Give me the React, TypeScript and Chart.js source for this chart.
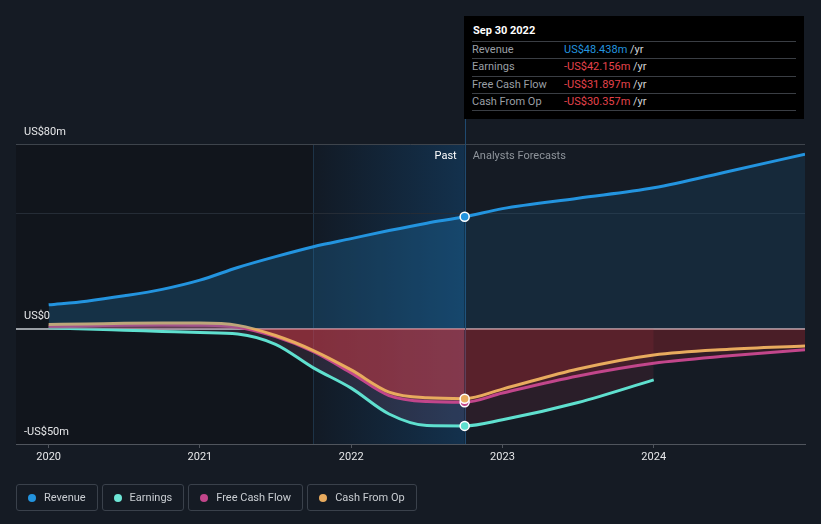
import React, { useEffect, useRef } from "react";
import { Chart, registerables } from "chart.js";

Chart.register(...registerables);

// ---------- data ----------
const pastDates = [2020.0, 2020.25, 2020.5, 2020.75, 2021.0, 2021.25, 2021.5, 2021.75, 2022.0, 2022.25, 2022.5, 2022.75];
const forecastDates = [2022.75, 2023.0, 2023.5, 2024.0, 2024.5, 2025.0];
const earningsForecastDates = [2022.75, 2023.0, 2023.5, 2024.0];

const revenuePast = [10.3, 11.9, 14.2, 17.0, 21.0, 26.5, 31.2, 35.5, 39.0, 42.5, 45.7, 48.438];
const revenueForecast = [48.438, 52.0, 56.5, 61.0, 68.2, 75.6];

const earningsPast = [0.4, -0.2, -0.7, -1.2, -1.7, -2.3, -6.8, -17.0, -25.8, -37.0, -42.0, -42.156];
const earningsForecast = [-42.156, -39.5, -32.0, -22.2];

const fcfPast = [1.0, 1.2, 1.5, 1.6, 1.5, 0.6, -3.5, -10.0, -19.2, -29.0, -31.6, -31.897];
const fcfForecast = [-31.897, -27.9, -20.5, -15.0, -11.8, -9.2];

const cfoPast = [1.8, 2.0, 2.3, 2.4, 2.4, 1.4, -3.0, -9.5, -17.9, -27.5, -30.0, -30.357];
const cfoForecast = [-30.357, -26.2, -17.5, -11.4, -8.9, -7.5];

const xTicks = [2020, 2021, 2022, 2023, 2024];
const yTicks = [-50, 0, 50, 80];
const yLabels: Record<number, string> = { 80: "US$80m", 0: "US$0", [-50]: "-US$50m" };

const X_MIN = 2019.784;
const X_MAX = 2025.0;
const NOW = 2022.75;
const HIGHLIGHT_START = 2021.75;

const tooltipTitle = "Sep 30 2022";
const tooltipRows = [
  { label: "Revenue", value: "US$48.438m", positive: true },
  { label: "Earnings", value: "-US$42.156m", positive: false },
  { label: "Free Cash Flow", value: "-US$31.897m", positive: false },
  { label: "Cash From Op", value: "-US$30.357m", positive: false },
];

const legendItems = [
  { label: "Revenue", color: "#2394df" },
  { label: "Earnings", color: "#6ee6d6" },
  { label: "Free Cash Flow", color: "#c2468b" },
  { label: "Cash From Op", color: "#e8ab5e" },
];

const FONT = "Roboto, 'Noto Sans', sans-serif";

function pts(dates: number[], vals: number[]) {
  return dates.map((x, i) => ({ x, y: vals[i] }));
}
function joined(pd: number[], pv: number[], fd: number[], fv: number[]) {
  return pts(pd, pv).concat(pts(fd, fv).slice(1));
}

export default function App() {
  const canvasRef = useRef<HTMLCanvasElement | null>(null);

  useEffect(() => {
    const canvas = canvasRef.current;
    if (!canvas) return;

    const pointR = (ctx: any) => (ctx.raw && ctx.raw.x === NOW ? 4.5 : 0);
    const segBg = (past: string, future: string) => ({
      backgroundColor: (ctx: any) => (ctx.p0.parsed.x >= NOW - 1e-6 ? future : past),
    });

    const bgPlugin = {
      id: "bgPlugin",
      beforeDraw(chart: any) {
        const { ctx, chartArea: a, scales } = chart;
        const xs = scales.x;
        const xh = xs.getPixelForValue(HIGHLIGHT_START);
        const xn = xs.getPixelForValue(NOW);
        ctx.save();
        ctx.fillStyle = "#11151c";
        ctx.fillRect(a.left, a.top, xh - a.left, a.bottom - a.top);
        const g = ctx.createLinearGradient(xh, 0, xn, 0);
        g.addColorStop(0, "#121a25");
        g.addColorStop(1, "#13314d");
        ctx.fillStyle = g;
        ctx.fillRect(xh, a.top, xn - xh, a.bottom - a.top);
        ctx.fillStyle = "#1d3347";
        ctx.fillRect(Math.round(xh), a.top, 1, a.bottom - a.top);
        ctx.restore();
      },
      beforeDatasetsDraw(chart: any) {
        const { ctx, chartArea: a, scales } = chart;
        const xn = Math.round(scales.x.getPixelForValue(NOW));
        ctx.save();
        ctx.fillStyle = "#1f4a70";
        ctx.fillRect(xn, 119, 1, a.bottom - 119);
        ctx.restore();
      },
      afterDraw(chart: any) {
        const { ctx, chartArea: a, scales } = chart;
        const ys = scales.y;
        const xn = scales.x.getPixelForValue(NOW);
        ctx.save();
        ctx.font = `11px ${FONT}`;
        ctx.textBaseline = "middle";
        ctx.textAlign = "left";
        ctx.fillStyle = "#e6e7e9";
        for (const v of [80, 0, -50]) {
          ctx.fillText(yLabels[v], 24, ys.getPixelForValue(v) - 12);
        }
        ctx.textAlign = "right";
        ctx.fillStyle = "#ffffff";
        ctx.fillText("Past", xn - 8, a.top + 12);
        ctx.textAlign = "left";
        ctx.fillStyle = "#8e949b";
        ctx.fillText("Analysts Forecasts", xn + 8, a.top + 12);
        ctx.restore();
      },
    };

    const chart = new Chart(canvas, {
      type: "line",
      data: {
        datasets: [
          {
            label: "Revenue",
            data: joined(pastDates, revenuePast, forecastDates, revenueForecast),
            borderColor: "#2394df",
            borderWidth: 3,
            fill: "origin",
            backgroundColor: "rgba(35,148,223,0.22)",
            segment: segBg("rgba(35,148,223,0.22)", "rgba(35,148,223,0.12)"),
            pointRadius: pointR,
            pointHoverRadius: 0,
            pointBackgroundColor: "#2394df",
            pointBorderColor: "#ffffff",
            pointBorderWidth: 1.5,
            cubicInterpolationMode: "monotone",
            order: 0,
          },
          {
            label: "Cash From Op",
            data: joined(pastDates, cfoPast, forecastDates, cfoForecast),
            borderColor: "#e8ab5e",
            borderWidth: 3,
            fill: "origin",
            backgroundColor: "rgba(215,55,65,0.3)",
            segment: segBg("rgba(215,55,65,0.3)", "rgba(200,40,50,0.165)"),
            pointRadius: pointR,
            pointHoverRadius: 0,
            pointBackgroundColor: "#e8ab5e",
            pointBorderColor: "#ffffff",
            pointBorderWidth: 1.5,
            cubicInterpolationMode: "monotone",
            order: 1,
          },
          {
            label: "Free Cash Flow",
            data: joined(pastDates, fcfPast, forecastDates, fcfForecast),
            borderColor: "#c2468b",
            borderWidth: 3,
            fill: "origin",
            backgroundColor: "rgba(215,55,65,0.3)",
            segment: segBg("rgba(215,55,65,0.3)", "rgba(200,40,50,0.165)"),
            pointRadius: pointR,
            pointHoverRadius: 0,
            pointBackgroundColor: "#c2468b",
            pointBorderColor: "#ffffff",
            pointBorderWidth: 1.5,
            cubicInterpolationMode: "monotone",
            order: 2,
          },
          {
            label: "Earnings",
            data: joined(pastDates, earningsPast, earningsForecastDates, earningsForecast),
            borderColor: "#5fe0cf",
            borderWidth: 3,
            fill: "origin",
            backgroundColor: "rgba(180,120,170,0.15)",
            segment: segBg("rgba(180,120,170,0.15)", "rgba(200,60,80,0.12)"),
            pointRadius: pointR,
            pointHoverRadius: 0,
            pointBackgroundColor: "#5fe0cf",
            pointBorderColor: "#ffffff",
            pointBorderWidth: 1.5,
            cubicInterpolationMode: "monotone",
            order: 3,
          },
        ],
      },
      options: {
        animation: false,
        responsive: false,
        maintainAspectRatio: false,
        events: [],
        layout: { padding: { left: 16, right: 16, top: 144, bottom: 50 } },
        plugins: {
          legend: { display: false },
          tooltip: { enabled: false },
        },
        scales: {
          x: {
            type: "linear",
            min: X_MIN,
            max: X_MAX,
            afterBuildTicks: (scale: any) => {
              scale.ticks = xTicks.map((v) => ({ value: v }));
            },
            afterFit: (scale: any) => {
              scale.height = 30;
            },
            ticks: {
              color: "#e6e7e9",
              font: { family: FONT, size: 11 },
              padding: 3,
              maxRotation: 0,
              autoSkip: false,
              callback: (v: any) => String(v),
            },
            grid: {
              drawOnChartArea: false,
              drawTicks: true,
              tickLength: 4,
              color: "#4f545c",
            },
            border: { display: true, color: "#50555d", width: 1 },
          },
          y: {
            type: "linear",
            min: -50,
            max: 80,
            afterBuildTicks: (scale: any) => {
              scale.ticks = yTicks.map((v) => ({ value: v }));
            },
            afterFit: (scale: any) => {
              scale.width = 0;
            },
            ticks: { display: false },
            grid: {
              drawTicks: false,
              color: (ctx: any) => {
                const v = ctx.tick && ctx.tick.value;
                if (v === 0) return "#9a9ea4";
                if (v === 80) return "#3e444c";
                if (v === 50) return "#252c36";
                return "rgba(0,0,0,0)";
              },
              lineWidth: (ctx: any) => (ctx.tick && ctx.tick.value === 0 ? 2 : 1),
            },
            border: { display: false },
          },
        },
      },
      plugins: [bgPlugin],
    } as any);

    return () => chart.destroy();
  }, []);

  const rowTop = 25;
  const rowH = 17.4;

  return (
    <div
      style={{
        position: "absolute",
        left: 0,
        top: 0,
        width: 821,
        height: 524,
        background: "#151b24",
        overflow: "hidden",
        fontFamily: FONT,
      }}
    >
      <canvas ref={canvasRef} width={821} height={524} style={{ display: "block", width: 821, height: 524 }} />

      {/* tooltip box */}
      <div
        style={{
          position: "absolute",
          left: 464,
          top: 16,
          width: 340,
          height: 103,
          background: "#000000",
        }}
      >
        <div
          style={{
            position: "absolute",
            left: 9,
            top: 8,
            fontSize: 11,
            lineHeight: "14px",
            fontWeight: 700,
            color: "#ffffff",
          }}
        >
          {tooltipTitle}
        </div>
        {tooltipRows.map((r, i) => (
          <div
            key={r.label}
            style={{
              position: "absolute",
              left: 8,
              right: 8,
              top: rowTop + i * rowH,
              height: rowH,
              borderTop: "1px solid #3a3e44",
              borderBottom: i === tooltipRows.length - 1 ? "1px solid #3a3e44" : "none",
              boxSizing: "border-box",
              fontSize: 11,
              lineHeight: `${rowH - 1}px`,
            }}
          >
            <span style={{ position: "absolute", left: 0, color: "#9a9fa5" }}>{r.label}</span>
            <span style={{ position: "absolute", left: 92, whiteSpace: "nowrap" }}>
              <span style={{ color: r.positive ? "#2394df" : "#e5434c" }}>{r.value}</span>
              <span style={{ color: "#d3d5d8" }}> /yr</span>
            </span>
          </div>
        ))}
      </div>

      {/* legend */}
      <div
        style={{
          position: "absolute",
          left: 16,
          top: 484,
          display: "flex",
          gap: 4,
        }}
      >
        {legendItems.map((it) => (
          <div
            key={it.label}
            style={{
              display: "flex",
              alignItems: "center",
              height: 27,
              boxSizing: "border-box",
              border: "1px solid #3a414b",
              borderRadius: 3,
              padding: "0 11px 0 11px",
              fontSize: 11,
              color: "#c9cdd2",
              whiteSpace: "nowrap",
            }}
          >
            <span
              style={{
                display: "inline-block",
                width: 8,
                height: 8,
                borderRadius: "50%",
                background: it.color,
                marginRight: 8,
              }}
            />
            {it.label}
          </div>
        ))}
      </div>
    </div>
  );
}
